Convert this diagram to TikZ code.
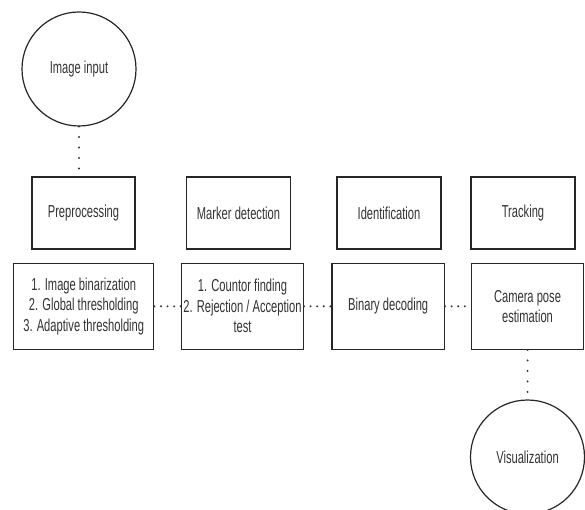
\documentclass[tikz,border=0pt]{standalone}
\usepackage{fontspec}
\setmainfont[FakeStretch=0.645]{Liberation Sans}
\begin{document}
\begin{tikzpicture}[x=1pt,y=-1pt,
  box/.style={draw=black!85, line width=1.2pt, rectangle, inner sep=0pt, align=center,
    text=black!80, font=\fontsize{17.3}{20.5}\selectfont},
  roundnode/.style={draw=black!85, line width=1.2pt, circle, inner sep=0pt, minimum size=114pt,
    text=black!80, font=\fontsize{17.3}{20.5}\selectfont},
  hdots/.style={draw=black!80, line width=2.2pt, line cap=round, dash pattern=on 0pt off 6.6pt},
  vdots/.style={draw=black!80, line width=2.2pt, line cap=round, dash pattern=on 0pt off 10.5pt}]
\useasboundingbox (0,0) rectangle (585,510);
\fill[white] (0,0) rectangle (585,510);
\clip (0,0) rectangle (585,510);
% circles
\node[roundnode] (img) at (79,69) {Image input};
\node[roundnode] (vis) at (527.5,457) {Visualization};
% top boxes
\node[box, minimum width=103pt, minimum height=72pt] (pre) at (83.5,213) {Preprocessing};
\node[box, minimum width=104pt, minimum height=72pt] (mark) at (238.5,213) {Marker detection};
\node[box, minimum width=104pt, minimum height=72pt] (ident) at (389,213) {Identification};
\node[box, minimum width=104pt, minimum height=72pt] (track) at (523,213) {Tracking};
% lower boxes
\node[box, minimum width=140pt, minimum height=86pt] (b1) at (83.75,306.3)
  {1. Image binarization\\2. Global thresholding\\3. Adaptive thresholding};
\node[box, minimum width=121.7pt, minimum height=86pt] (b2) at (242.5,306.3)
  {1. Countor finding\\2. Rejection / Acception\\test};
\node[box, minimum width=112.4pt, minimum height=86pt] (b3) at (388.2,306.3)
  {Binary decoding};
\node[box, minimum width=112pt, minimum height=86pt] (b4) at (527.5,306.3)
  {Camera pose\\estimation};
% connectors
\draw[vdots] (img.south) -- (img.south |- pre.north);
\draw[hdots] (b1.east) -- (b2.west);
\draw[hdots] (b2.east) -- (b3.west);
\draw[hdots] (b3.east) -- (b4.west);
\draw[vdots] (b4.south) -- (vis.north);
\end{tikzpicture}
\end{document}
